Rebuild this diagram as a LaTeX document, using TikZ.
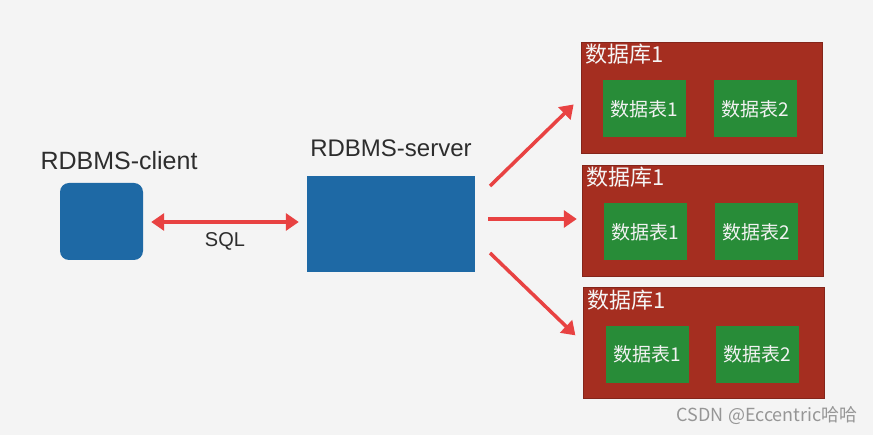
\documentclass[tikz,border=0pt]{standalone}
\usepackage{fontspec}
\setmainfont{Liberation Sans}
\newfontfamily\cjk{Noto Sans CJK SC}
\usetikzlibrary{arrows.meta,calc}
\definecolor{bg}{RGB}{244,244,244}
\definecolor{boxblue}{RGB}{30,105,165}
\definecolor{dbred}{RGB}{165,46,32}
\definecolor{tblgreen}{RGB}{40,140,56}
\definecolor{arrowred}{RGB}{232,66,66}
\definecolor{labelgray}{RGB}{45,45,45}
\definecolor{wmgray}{RGB}{150,150,150}
\tikzset{
  client/.style={fill=boxblue, rounded corners=9pt, minimum width=83pt, minimum height=77pt, inner sep=0pt},
  server/.style={fill=boxblue, minimum width=168pt, minimum height=96pt, inner sep=0pt},
  db/.style={fill=dbred, draw=dbred!80!black, line width=0.4pt, minimum width=241pt, minimum height=111pt, inner sep=0pt},
  tbl/.style={fill=tblgreen, minimum width=83pt, minimum height=57pt, inner sep=0pt, text=white!90!gray, font=\cjk\fontsize{19}{19}\selectfont},
  dbtitle/.style={anchor=base west, inner sep=0pt, text=white!92!gray, font=\cjk\fontsize{22}{22}\selectfont},
  lbl/.style={anchor=base, inner sep=0pt, text=labelgray},
  conn/.style={draw=arrowred, line width=3.5pt, -{Triangle[length=13pt,width=17pt]}},
  conn2/.style={draw=arrowred, line width=3.5pt, {Triangle[length=13pt,width=17pt]}-{Triangle[length=13pt,width=17pt]}}
}
\begin{document}
\begin{tikzpicture}[x=1pt,y=-1pt]
\fill[bg] (0,0) rectangle (873,435);
\useasboundingbox (0,0) rectangle (873,435);

% client and server
\node[client] (client) at (101.5,221.5) {};
\node[lbl, font=\fontsize{25}{25}\selectfont] (clientlbl) at (119,170) {RDBMS-client};
\node[server] (server) at (391,224) {};
\node[lbl, font=\fontsize{24}{24}\selectfont] (serverlbl) at (391,157) {RDBMS-server};

% SQL connector
\draw[conn2, shorten <=8pt, shorten >=8pt] (client.east |- 0,222) coordinate (ca) -- (server.west |- 0,222) coordinate (sa);
\node[lbl, font=\fontsize{20}{20}\selectfont] (sql) at (225,247) {SQL};

% databases
\node[db] (db1) at (701.5,97.5) {};
\node[db] (db2) at (702.5,220.5) {};
\node[db] (db3) at (704,343) {};

\foreach \d in {db1,db2,db3}{
  \node[dbtitle] (\d title) at ($(\d.north west)+(4,21)$) {数据库1};
  \node[tbl] (\d t1) at ($(\d.center)+(-57,11.5)$) {数据表1};
  \node[tbl] (\d t2) at ($(\d.center)+(53.5,11.5)$) {数据表2};
}

% server -> database connectors
\coordinate (s1) at (490,186);
\coordinate (s2) at (488,219);
\coordinate (s3) at (490,253);
\draw[conn, shorten >=10pt] (s1) -- (db1.west);
\draw[conn, shorten >=5pt] (s2) -- (db2.west |- s2);
\draw[conn, shorten >=11pt] (s3) -- (db3.west);

% watermark
\node[anchor=base east, inner sep=0pt, text=wmgray, font=\cjk\fontsize{18}{18}\selectfont] (wm) at (858,421) {CSDN @Eccentric哈哈};
\end{tikzpicture}
\end{document}
